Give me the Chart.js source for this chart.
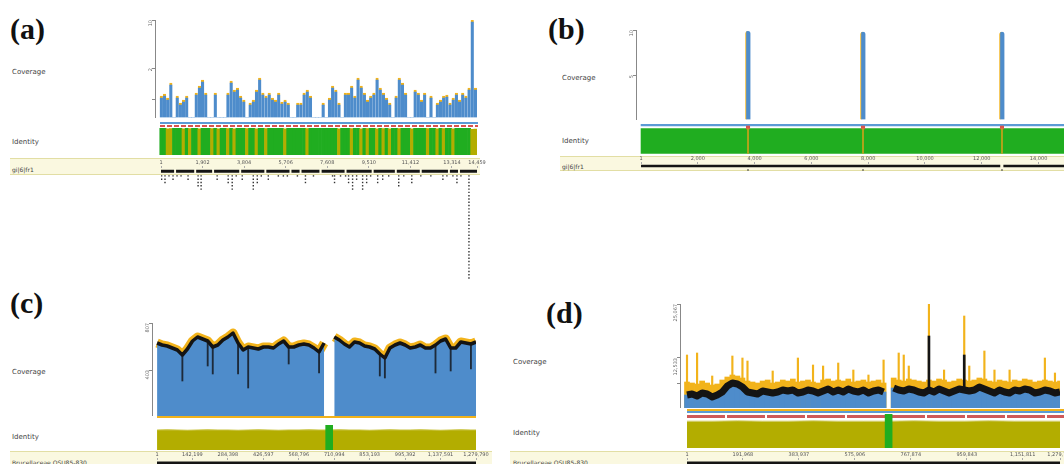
<!DOCTYPE html>
<html>
<head>
<meta charset="utf-8">
<script src="https://cdn.jsdelivr.net/npm/chart.js@4.4.1/dist/chart.umd.min.js"></script>
<style>
body { margin:0; width:1064px; height:464px; overflow:hidden; background:#fff; position:relative; font-family:'DejaVu Sans',sans-serif; }
canvas { position:absolute; }
.tag { position:absolute; font:bold 30px 'Liberation Serif',serif; color:#111; line-height:30px; }
.lbl { position:absolute; font-size:7px; color:#444; line-height:8px; }
.band { position:absolute; background:#faf8e0; border-top:1px solid #e2dea4; border-bottom:1px solid #e2dea4; }
.strip { position:absolute; }
</style>
</head>
<body>
<div class="tag" style="left:10px;top:14px">(a)</div>
<div class="tag" style="left:548px;top:14px">(b)</div>
<div class="tag" style="left:10px;top:288px">(c)</div>
<div class="tag" style="left:546px;top:298px">(d)</div>

<div class="lbl" style="left:12px;top:68px">Coverage</div>
<div class="lbl" style="left:12px;top:138px">Identity</div>
<div class="lbl" style="left:562px;top:74px">Coverage</div>
<div class="lbl" style="left:562px;top:137px">Identity</div>
<div class="lbl" style="left:12px;top:368px">Coverage</div>
<div class="lbl" style="left:12px;top:433px">Identity</div>
<div class="lbl" style="left:513px;top:358px">Coverage</div>
<div class="lbl" style="left:513px;top:429px">Identity</div>

<div class="band" style="left:10px;top:158px;width:470px;height:15px"></div>
<div class="band" style="left:560px;top:156px;width:504px;height:13px"></div>
<div class="band" style="left:10px;top:451px;width:482px;height:14px"></div>
<div class="band" style="left:510px;top:451px;width:554px;height:14px"></div>
<div class="lbl" style="left:12px;top:166px;font-size:6px">gi|6|fr1</div>
<div class="lbl" style="left:562px;top:163px;font-size:6px">gi|6|fr1</div>
<div class="lbl" style="left:12px;top:459px;font-size:6px">Brucellaceae OSU85-830</div>
<div class="lbl" style="left:513px;top:459px;font-size:6px">Brucellaceae OSU85-830</div>

<div class="strip" style="left:160px;top:122px;width:318px;height:2px;background:#5b9bd5"></div>
<div class="strip" style="left:160px;top:125px;width:318px;height:2px;background:repeating-linear-gradient(90deg,#d9534f 0 5px,#fff 5px 7px)"></div>
<div class="strip" style="left:157px;top:416px;width:319px;height:2px;background:#f2b31b"></div>
<div class="strip" style="left:687px;top:409px;width:377px;height:2px;background:#f2b31b"></div>
<div class="strip" style="left:687px;top:411px;width:377px;height:2px;background:#5b9bd5"></div>
<div class="strip" style="left:687px;top:415px;width:377px;height:3px;background:repeating-linear-gradient(90deg,#cf5a5a 0 38px,#fff 38px 40px)"></div>

<script>
// panel (a) coverage bins and identity bins
const covA = [22,24,20,35,0,22,15,18,22,0, 0,25,32,38,25,0,0,25,0,0,
  0,25,37,28,30,22,18,0,15,18, 28,40,25,22,25,20,18,25,16,18,
  15,0,0,15,15,25,28,22,0,0, 0,15,0,20,32,28,15,0,25,25,
  32,22,40,32,25,18,22,25,40,30, 25,20,15,0,22,40,35,25,0,0,
  28,25,18,25,0,22,0,15,18,22, 23,15,20,25,18,25,22,30,98,30];
const identA = [100,100,97,98,100,100,100,97,100,98, 100,100,97,100,100,100,98,100,97,100,
  100,98,100,97,100,100,100,98,100,100, 97,100,100,98,100,100,100,100,100,97,
  100,100,100,100,100,100,98,100,100,100, 100,100,100,100,100,100,97,100,100,100,
  98,100,100,97,100,98,100,100,97,100, 98,100,97,100,100,98,100,100,100,97,
  100,100,100,100,98,100,100,97,100,98, 100,100,97,100,100,100,100,100,95,96];
const yTicksA = [0, 19, 50, 98];
const yLabelsA = ['0', '', '2', '10'];
const rulerA = [1, 1902, 3804, 5706, 7608, 9510, 11412, 13314, 14459];
const geneStartA = [1,690,1610,2430,3670,4820,5970,6430,7350,8490,9730,10790,11930,13220,13680];
const geneEndA = [600,1520,2340,3580,4730,5880,6340,7250,8400,9640,10700,11840,13130,13590,14459];
const featPosA = [30,184,367,551,734,918,1239,1698,1836,2570,3075,3259,3443,3718,4223,4406,4590,4911,
  5370,5600,5783,6242,6610,6977,7849,7941,8216,8446,8583,8767,8951,9226,9410,9593,9914,10144,
  10419,10878,11108,11475,11888,12347,12898,13082,13357,13541,13724,14091];
const featRowsA = [2,3,1,2,1,1,2,4,5,2,3,5,1,2,5,3,1,2,
  1,1,1,1,3,1,1,3,1,1,3,5,2,5,3,1,3,2,
  1,4,1,3,1,1,2,1,1,3,1,32];

// panel (b)
const spikesB = [3768, 7817, 12711];
const covB = [99, 98, 98];
const yTicksB = [0, 50, 100];
const yLabelsB = ['0', '5', '10'];
const rulerB = [1, 2000, 4000, 6000, 8000, 10000, 12000, 14000, 16000];
const geneStartB = [1, 12760];
const geneEndB = [12650, 16162];

// panel (c)
const covC = [73,71,70,68,66,61,67,75,79,77, 75,69,71,76,79,83,73,66,69,68,
  67,69,69,68,72,75,69,69,71,72, 71,68,64,73,null,79,76,72,69,74,
  73,70,69,67,62,58,68,71,73,71, 68,69,71,68,68,71,75,77,68,68,
  74,73,72,74];
const dipIdxC = [5,10,11,16,18,26,32,44,45,55,58,62];
const dipLowC = [35,50,42,42,28,52,43,40,38,43,45,47];
const identC = [80,81,80,79,80,81,80,80,79,80,81,80,79,80,80,81,80,80,81,80,80,79,80,81,80,80,81,80,79,80,81,80,80];
const identStepC = 2;
const yTicksC = [0, 46, 93];
const yLabelsC = ['0', '403', '807'];
const rulerC = [1,142199,284398,426597,568796,710994,853193,995392,1137591,1279790];

// panel (d)
const topD = [26,25,24,27,25,23,24,28, 31,33,32,30, 27,26,25,27,28, 25,26,28,27,29,26,
  27,28,26,25,28,29,27, 28,27,29,26,27,28, 26,27,28,25, null,
  30,28,27,29,28,27,26, 28,27,29,28,26,27,29,28, 27,28,30,29,27,26,28,
  27,26,28,27,29,28,26,27,28,27,26,27];
const midD = [13,14,12,15,14,11,13,16, 22,25,24,21, 16,15,14,17,16, 15,16,18,17,18,15,
  16,18,17,15,17,19,16, 18,16,19,17,16,18, 15,17,18,16, null,
  20,18,17,19,18,16,15, 18,16,19,17,15,17,19,18, 17,18,21,19,17,15,18,
  16,15,18,17,19,18,15,16,18,17,15,16];
const spikeIdxD = [0,2,5,9,11,12,17,22,25,27,30,33,36,39,42,43,44,48,51,55,56,59,61,64,71,73];
const spikeTopD = [53,55,32,52,50,47,37,50,43,42,45,38,33,48,55,53,42,104,38,92,42,57,38,38,50,35];
const bigIdxD = [48, 55];
const bigMidD = [72, 53];
const identD = [79,79,80,79,79,80,79,79,79,80,79,79,80,79,79,79];
const identStepD = 5;
const yTicksD = [0, 25, 50, 104];
const yLabelsD = ['0', '', '12,533', '25,067'];
const rulerD = [1,191968,383937,575906,767874,959843,1151811,1279790];
const genomeLen = 1279790;

const BLUE = '#4e8ccb', LBLUE = '#5b9bd5', ORANGE = '#f2b31b', GREEN = '#20ad20',
  OLIVE = '#b3ad00', RED = '#d9534f', DARK = '#141414';

Chart.defaults.font.family = "'DejaVu Sans', sans-serif";

function place(left, top, w, h) {
  const c = document.createElement('canvas');
  c.width = w; c.height = h;
  c.style.left = left + 'px'; c.style.top = top + 'px';
  c.style.width = w + 'px'; c.style.height = h + 'px';
  document.body.appendChild(c);
  return c;
}

const base = () => ({
  responsive: false, maintainAspectRatio: false, animation: false, events: [], devicePixelRatio: 1,
  layout: { padding: 0 },
  plugins: { legend: { display: false }, tooltip: { enabled: false } }
});

function yAxis(max, ticks, labels) {
  return {
    type: 'linear', min: 0, max, position: 'left', offset: false,
    afterFit: s => { s.width = 30; s.paddingTop = 0; s.paddingBottom = 0; },
    afterBuildTicks: s => { s.ticks = ticks.map(v => ({ value: v })); },
    border: { display: true, color: '#888', width: 1 },
    grid: { drawOnChartArea: false, tickLength: 3, color: '#888' },
    ticks: { autoSkip: false, font: { size: 5 }, color: '#666', padding: 1,
      minRotation: 90, maxRotation: 90, callback: (v, i) => labels[i] }
  };
}

const hidden = (min, max, reverse = false) =>
  ({ type: 'linear', min, max, reverse, offset: false, display: false });
const fmt = v => Math.round(v).toLocaleString('en-US');
const trackPts = (starts, ends) =>
  starts.flatMap((s, i) => [{ x: s, y: 0 }, { x: ends[i], y: 0 }, { x: ends[i], y: null }]);

// a chart that only carries a y axis, its right edge is the axis line
function axisOnly(left, top, h, max, ticks, labels) {
  return new Chart(place(left, top, 31, h), {
    type: 'bar', data: { datasets: [] },
    options: { ...base(), scales: { x: hidden(0, 1), y: yAxis(max, ticks, labels) } }
  });
}

function rulerChart(left, top, w, h, xmin, xmax, ticks, axisH, ymin, ymax, datasets) {
  return new Chart(place(left - 20, top, w + 50, h), {
    type: 'scatter',
    data: { datasets },
    options: { ...base(), layout: { padding: { left: 20, right: 30 } },
      scales: {
        x: { type: 'linear', position: 'top', min: xmin, max: xmax, offset: false,
          afterBuildTicks: s => { s.ticks = ticks.map(v => ({ value: v })); },
          afterFit: s => { s.height = axisH; s.paddingLeft = 0; s.paddingRight = 0; },
          border: { display: false },
          grid: { drawOnChartArea: false, tickLength: 2, color: '#aaa' },
          ticks: { autoSkip: false, maxRotation: 0, minRotation: 0, padding: 0,
            font: { size: 5 }, color: '#555', callback: v => fmt(v) } },
        y: hidden(ymin, ymax, true)
      } }
  });
}

const trackSet = (pts, w) => ({ data: pts, showLine: true, borderColor: DARK, borderWidth: w,
  pointRadius: 0, spanGaps: false });

// ---------- (a) ----------
new Chart(place(125, 20, 352, 98), {
  type: 'bar',
  data: { datasets: [{
    data: covA.map((v, i) => ({ x: i, y: v })),
    backgroundColor: BLUE, borderColor: ORANGE,
    borderWidth: { top: 2, left: 0, right: 0, bottom: 0 },
    barPercentage: 1, categoryPercentage: 1
  }] },
  options: { ...base(), scales: { x: hidden(-2, 99.5), y: yAxis(98, yTicksA, yLabelsA) } }
});

new Chart(place(155, 128, 322, 27), {
  type: 'bar',
  data: { datasets: [{
    data: identA.map((v, i) => ({ x: i, y: v })),
    backgroundColor: identA.map(v => v >= 100 ? GREEN : OLIVE),
    barPercentage: 1, categoryPercentage: 1
  }] },
  options: { ...base(), scales: { x: hidden(-2, 99.5), y: hidden(0, 100) } }
});

const marksA = featPosA.flatMap((p, i) =>
  Array.from({ length: featRowsA[i] }, (_, r) => ({ x: p, y: 1.4 + r })));
rulerChart(161, 158, 316, 126, 1, rulerA[rulerA.length - 1], rulerA, 10, -1, 33, [
  trackSet(trackPts(geneStartA, geneEndA), 3),
  { data: marksA, pointStyle: 'rect', pointRadius: 1, backgroundColor: '#333', borderWidth: 0 }
]);

// ---------- (b) ----------
const bMin = -176, bMax = 16162;
new Chart(place(606, 30, 494, 90), {
  type: 'bar',
  data: { datasets: [{
    data: spikesB.map((p, i) => ({ x: p, y: covB[i] })),
    backgroundColor: BLUE, borderColor: ORANGE,
    borderWidth: { left: 1, top: 0, right: 0, bottom: 0 },
    borderRadius: { topLeft: 3, topRight: 3 }, barThickness: 5
  }] },
  options: { ...base(), scales: { x: hidden(bMin, bMax), y: yAxis(100, yTicksB, yLabelsB) } }
});

new Chart(place(636, 124, 464, 30), {
  type: 'bar',
  data: { datasets: [
    { data: spikesB.map(p => ({ x: [p - 18, p + 18], y: 17 })), backgroundColor: '#c9a21a',
      barThickness: 25, grouped: false, order: 1 },
    { data: spikesB.map(p => ({ x: [p - 60, p + 60], y: 3.5 })), backgroundColor: RED,
      barThickness: 3, grouped: false, order: 1 },
    { data: [{ x: [1, bMax], y: 1 }], backgroundColor: LBLUE, barThickness: 2, grouped: false, order: 2 },
    { data: [{ x: [1, bMax], y: 17 }], backgroundColor: GREEN, barThickness: 25, grouped: false, order: 2 }
  ] },
  options: { ...base(), indexAxis: 'y',
    scales: { x: hidden(bMin, bMax), y: hidden(0, 30, true) } }
});

rulerChart(636, 156, 464, 20, bMin, bMax, rulerB, 8, -1, 3, [
  trackSet(trackPts(geneStartB, geneEndB), 2.5),
  { data: spikesB.map(p => ({ x: p, y: 2 })), pointStyle: 'rect', pointRadius: 1,
    backgroundColor: '#444', borderWidth: 0 }
]);

// ---------- (c) ----------
const ptsC = covC.map((v, i) => ({ x: i, y: v }));
const gapC = covC.indexOf(null);
new Chart(place(122, 323, 354, 93), {
  type: 'line',
  data: { datasets: [
    { data: ptsC, borderColor: DARK, borderWidth: 3.5, pointRadius: 0, fill: false,
      borderJoinStyle: 'round', order: 1 },
    { type: 'bar', data: dipIdxC.map((k, j) => ({ x: k, y: [dipLowC[j], covC[k]] })),
      backgroundColor: '#1d2a3a', barThickness: 1.2, order: 2 },
    { data: ptsC, borderWidth: 0, backgroundColor: BLUE, fill: 'start', pointRadius: 0, order: 3 },
    { data: ptsC, borderColor: ORANGE, borderWidth: 9, pointRadius: 0, fill: false,
      borderJoinStyle: 'round', order: 4 }
  ] },
  options: { ...base(), scales: { x: hidden(-1, 63), y: yAxis(93, yTicksC, yLabelsC) } }
});

new Chart(place(152, 425, 324, 25), {
  type: 'line',
  data: { datasets: [
    { type: 'bar', data: [{ x: gapC, y: 100 }], backgroundColor: GREEN, barThickness: 7, order: 1 },
    { data: identC.map((v, i) => ({ x: i * identStepC, y: v })), fill: 'start',
      backgroundColor: OLIVE, borderColor: '#c8c23c', borderWidth: 1.2, pointRadius: 0, order: 2 }
  ] },
  options: { ...base(), scales: { x: hidden(-1, 63), y: hidden(0, 100) } }
});

rulerChart(157, 451, 319, 14, 1, genomeLen, rulerC, 9, -1, 0.7, [
  trackSet(trackPts([1], [genomeLen]), 3)
]);

// ---------- (d) ----------
const topPtsD = topD.map((v, i) => ({ x: i, y: v }));
const midPtsD = midD.map((v, i) => ({ x: i, y: v }));
const gapD = topD.indexOf(null);
const dMin = -1.39, dMax = 74;
axisOnly(650, 304, 104, 104, yTicksD, yLabelsD);
new Chart(place(680, 304, 380, 104), {
  type: 'bar',
  data: { datasets: [
    { data: bigIdxD.map((k, j) => ({ x: k, y: [midD[k], bigMidD[j]] })),
      backgroundColor: DARK, barThickness: 2, grouped: false, order: 0 },
    { data: spikeIdxD.map((k, j) => ({ x: k, y: [topD[k], spikeTopD[j]] })),
      backgroundColor: ORANGE, barThickness: 1.5, grouped: false, order: 1 },
    { type: 'line', data: midPtsD, borderColor: DARK, borderWidth: 7, pointRadius: 0, fill: false,
      borderJoinStyle: 'round', order: 2 },
    { data: midPtsD, backgroundColor: BLUE, barPercentage: 1, categoryPercentage: 1,
      grouped: false, order: 3 },
    { data: topPtsD, backgroundColor: ORANGE, barPercentage: 1, categoryPercentage: 1,
      grouped: false, order: 4 }
  ] },
  options: { ...base(), scales: { x: hidden(dMin, dMax), y: hidden(0, 104) } }
});

new Chart(place(680, 414, 380, 34), {
  type: 'line',
  data: { datasets: [
    { type: 'bar', data: [{ x: gapD, y: 100 }], backgroundColor: GREEN, barThickness: 7, order: 1 },
    { data: identD.map((v, i) => ({ x: i * identStepD, y: v })), fill: 'start',
      backgroundColor: OLIVE, borderColor: '#d6d27a', borderWidth: 1, pointRadius: 0, order: 2 }
  ] },
  options: { ...base(), scales: { x: hidden(dMin, dMax), y: hidden(0, 100) } }
});

rulerChart(687, 451, 373, 14, 1, genomeLen, rulerD, 9, -1, 0.7, [
  trackSet(trackPts([1], [genomeLen]), 3)
]);
</script>
</body>
</html>
